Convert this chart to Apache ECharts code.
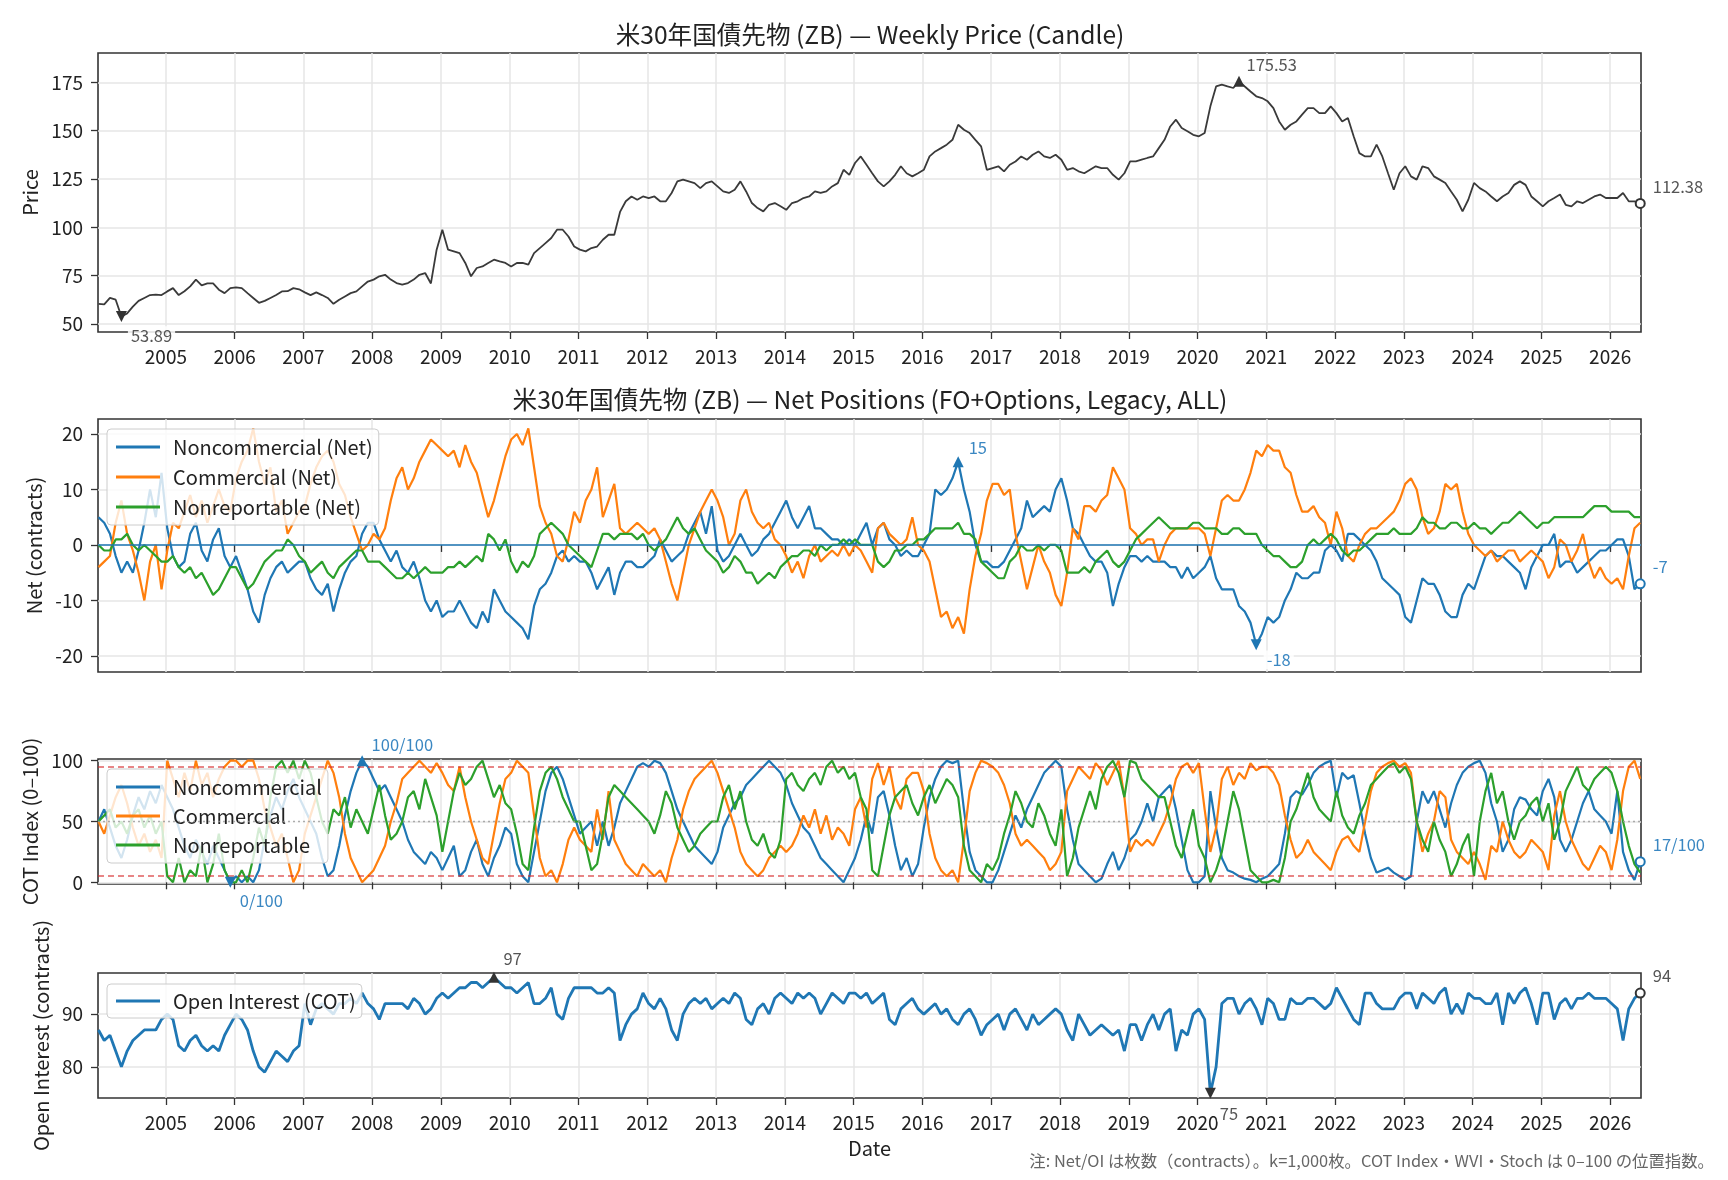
<!DOCTYPE html>
<html>
<head>
<meta charset="utf-8">
<title>ZB COT</title>
<script src="https://cdn.jsdelivr.net/npm/echarts@6/dist/echarts.min.js"></script>
<style>
html, body { margin: 0; padding: 0; background: #fff; }
#chart { width: 1728px; height: 1180px; }
</style>
</head>
<body>
<div id="chart"></div>
<script>
// monthly samples, Jan 2004 .. Jun 2026
const firstYear = 2004;
const yearTicks = [2005, 2006, 2007, 2008, 2009, 2010, 2011, 2012, 2013, 2014, 2015,
  2016, 2017, 2018, 2019, 2020, 2021, 2022, 2023, 2024, 2025, 2026];

const priceClose = [
  60.5, 60.2, 63.5, 62.6, 53.89, 55.5, 59.0, 62.0, 63.5, 65.0, 65.2, 65.0,
  66.9, 68.6, 65.0, 67.0, 69.5, 73.0, 70.0, 71.0, 71.0, 67.8, 66.0, 68.6,
  69.0, 68.6, 66.0, 63.5, 61.0, 62.0, 63.5, 65.0, 66.9, 67.0, 68.6, 68.0,
  66.4, 65.0, 66.4, 65.0, 63.5, 60.5, 62.6, 64.3, 66.0, 66.9, 69.5, 72.0,
  73.0, 74.7, 75.5, 73.0, 71.2, 70.4, 71.2, 73.0, 75.5, 76.4, 71.0, 88.5,
  98.8, 88.5, 87.6, 86.7, 81.6, 74.7, 79.0, 79.8, 81.6, 83.3, 82.4, 81.6,
  79.8, 81.6, 81.6, 80.7, 86.7, 89.3, 91.9, 94.5, 98.8, 98.8, 95.3, 90.1,
  88.5, 87.6, 89.3, 90.1, 93.6, 96.2, 96.2, 108.0, 113.5, 116.0, 114.3, 116.0,
  115.2, 116.0, 113.5, 113.5, 117.8, 123.8, 124.7, 123.8, 122.9, 120.3, 122.9, 123.8,
  121.2, 118.6, 117.8, 119.5, 123.8, 118.6, 112.6, 110.0, 108.3, 111.7, 112.6, 110.9,
  109.1, 112.6, 113.5, 115.2, 116.0, 118.6, 117.8, 118.6, 121.2, 122.9, 129.8, 127.2,
  133.3, 136.7, 132.4, 128.0, 123.8, 121.2, 123.8, 127.2, 131.6, 128.0, 126.4, 128.0,
  129.8, 136.7, 139.3, 141.0, 142.8, 145.3, 153.1, 150.5, 148.8, 145.3, 141.9, 129.8,
  130.7, 131.6, 129.0, 132.4, 134.1, 136.7, 135.0, 137.6, 139.3, 136.7, 135.9, 137.6,
  135.0, 129.8, 130.7, 129.0, 128.0, 129.8, 131.6, 130.7, 130.7, 127.2, 124.7, 128.0,
  134.1, 134.1, 135.0, 135.9, 136.7, 141.0, 145.3, 152.2, 155.7, 151.4, 149.7, 147.9,
  147.1, 148.8, 162.6, 172.9, 173.8, 172.9, 172.1, 175.53, 172.9, 170.3, 167.8, 166.9,
  165.2, 161.7, 154.8, 150.5, 153.1, 154.8, 158.3, 161.7, 161.7, 159.1, 159.1, 162.6,
  159.1, 154.8, 156.6, 147.1, 138.4, 136.7, 136.7, 142.8, 136.7, 128.0, 119.5, 128.0,
  131.6, 126.4, 124.7, 131.6, 130.7, 126.4, 124.7, 123.0, 118.6, 114.3, 108.3, 114.3,
  123.0, 120.3, 118.6, 116.0, 113.5, 116.0, 117.8, 122.0, 123.8, 122.0, 116.0, 113.5,
  110.9, 113.5, 115.2, 117.0, 111.7, 110.9, 113.5, 112.6, 114.3, 116.0, 117.0, 115.2,
  115.2, 115.2, 117.8, 113.5, 113.5, 112.38
];

// net positions, thousands of contracts
const netNoncomm = [
  5, 4, 2, -2, -5, -3, -5, -1, 4, 10, 5, 13,
  3, -2, -4, -3, 2, 4, -1, -3, 1, 3, -2, -4,
  -2, -5, -8, -12, -14, -9, -6, -4, -3, -5, -4, -3,
  -3, -6, -8, -9, -7, -12, -8, -5, -3, -2, 2, 4,
  4, 1, -1, -3, -1, -4, -5, -3, -6, -10, -12, -10,
  -13, -12, -12, -10, -12, -14, -15, -12, -14, -8, -10, -12,
  -13, -14, -15, -17, -11, -8, -7, -5, -2, -1, -3, -2,
  -3, -3, -5, -8, -6, -4, -9, -5, -3, -3, -4, -4,
  -3, -2, 1, -1, -3, -2, -1, 2, 4, 6, 2, 7,
  -1, -3, -2, 0, 2, 0, -2, -1, 1, 2, 4, 6,
  8, 5, 3, 5, 7, 3, 3, 2, 1, 1, 0, 1,
  0, 2, 4, 0, 3, 4, 1, 0, -2, -1, -2, -2,
  0, 2, 10, 9, 10, 12, 15, 10, 6, 0, -3, -3,
  -4, -4, -3, -1, 1, 3, 8, 5, 6, 7, 6, 10,
  12, 8, 3, 2, 0, -2, -3, -3, -5, -11, -7, -4,
  -2, -2, -3, -2, -3, -3, -3, -4, -4, -6, -4, -6,
  -5, -4, -2, -6, -8, -8, -8, -11, -12, -14, -18, -16,
  -13, -14, -13, -10, -8, -5, -6, -6, -5, -5, -1, 0,
  -1, -3, 2, 2, 1, 0, -1, -3, -6, -7, -8, -9,
  -13, -14, -10, -6, -7, -7, -9, -12, -13, -13, -9, -7,
  -8, -5, -2, -1, -2, -2, -3, -4, -5, -8, -4, -2,
  0, 0, 2, -4, -3, -3, -5, -4, -3, -2, -1, -1,
  0, 1, 1, -2, -8, -7
];
const netComm = [
  -4, -3, -2, 4, 8, 2, -1, -5, -10, -3, 0, -8,
  -1, 4, 3, 6, 9, 5, 8, 4, 7, 10, 7, 6,
  12, 15, 17, 21, 15, 11, 14, 6, 8, 2, 4, 6,
  7, 11, 14, 16, 17, 15, 11, 9, 5, 2, -1, 0,
  2, 1, 3, 8, 12, 14, 10, 12, 15, 17, 19, 18,
  17, 16, 17, 14, 18, 15, 13, 9, 5, 8, 12, 16,
  19, 20, 18, 21, 14, 7, 4, 2, -2, -3, 1, 6,
  4, 8, 10, 14, 5, 8, 11, 3, 2, 3, 4, 3,
  2, 3, 1, -3, -7, -10, -5, 0, 3, 6, 8, 10,
  8, 5, 0, 2, 8, 10, 6, 4, 3, 4, 1, 0,
  -2, -5, -3, -6, -2, 0, -3, -2, -1, -2, 0, -2,
  0, -1, -3, -5, 3, 4, 2, 1, 0, 1, 5, 0,
  -1, -3, -8, -13, -12, -15, -13, -16, -8, -2, 2, 8,
  11, 11, 9, 10, 2, -3, -8, -4, 0, -3, -5, -9,
  -11, -5, 3, 1, 7, 7, 6, 8, 9, 14, 12, 10,
  3, 2, 0, 1, 1, -3, 0, 2, 3, 3, 3, 3,
  3, 2, -2, 3, 8, 9, 8, 8, 10, 13, 17, 16,
  18, 17, 17, 14, 13, 9, 6, 6, 7, 5, 4, 0,
  6, 3, -2, -3, 0, 2, 3, 3, 4, 5, 6, 8,
  11, 12, 10, 5, 2, 3, 6, 11, 10, 11, 6, 2,
  0, -1, -2, -1, -3, -2, -1, -1, -3, -2, -1, -2,
  -3, -6, -4, 1, 0, -3, -1, 2, -3, -6, -4, -6,
  -7, -6, -8, -2, 3, 4
];
const netNonrep = [
  0, -1, -1, 1, 1, 2, 0, -1, 0, -1, -2, -3,
  -3, -2, -4, -5, -4, -6, -5, -7, -9, -8, -6, -4,
  -4, -6, -8, -7, -5, -3, -2, -1, -1, 1, 0, -2,
  -3, -5, -4, -3, -5, -6, -4, -3, -2, -1, -1, -3,
  -3, -3, -4, -5, -6, -6, -5, -6, -5, -4, -5, -5,
  -5, -4, -4, -3, -4, -3, -2, -3, 2, 1, -1, 1,
  -3, -5, -3, -4, -2, 2, 3, 4, 3, 2, 0, -1,
  -2, -3, -4, -1, 2, 2, 1, 2, 2, 2, 1, 2,
  0, -1, 0, 1, 3, 5, 3, 2, 3, 1, -1, -2,
  -3, -5, -4, -2, -3, -5, -5, -7, -6, -5, -6, -4,
  -3, -2, -2, -1, -1, -2, 0, -1, 0, 0, 1, 0,
  1, 0, 0, 0, -3, -4, -3, -1, -1, 0, 0, 1,
  1, 2, 3, 3, 3, 3, 4, 2, 2, 1, -3, -4,
  -5, -6, -6, -3, -2, 0, -1, -1, 0, -1, 0, 0,
  -1, -5, -5, -5, -4, -5, -3, -2, -1, -3, -4, -3,
  -1, 1, 2, 3, 4, 5, 4, 3, 3, 3, 3, 4,
  4, 3, 3, 3, 2, 2, 3, 3, 2, 2, 2, 0,
  -1, -2, -2, -3, -4, -4, -3, 0, 1, 0, 1, 2,
  1, -1, -2, -1, -1, 0, 1, 2, 2, 2, 3, 2,
  2, 2, 3, 5, 4, 4, 3, 3, 4, 4, 3, 3,
  4, 3, 3, 2, 3, 4, 4, 5, 6, 5, 4, 3,
  4, 4, 5, 5, 5, 5, 5, 5, 6, 7, 7, 7,
  6, 6, 6, 6, 5, 5
];

// COT index, 0-100
const cotNoncomm = [
  50, 60, 45, 30, 20, 35, 55, 70, 60, 75, 65, 80,
  70, 60, 45, 30, 20, 35, 25, 15, 30, 20, 10, 0,
  5, 0, 5, 0, 10, 35, 55, 70, 60, 75, 85, 70,
  60, 50, 40, 20, 5, 10, 30, 55, 75, 90, 100, 95,
  85, 75, 80, 70, 60, 50, 35, 25, 20, 15, 25, 20,
  10, 20, 30, 5, 10, 25, 35, 15, 5, 20, 30, 45,
  40, 15, 5, 0, 25, 50, 75, 90, 95, 85, 70, 55,
  40, 45, 50, 30, 50, 30, 45, 65, 75, 85, 95, 98,
  95, 100, 98, 90, 75, 60, 50, 40, 30, 25, 20, 15,
  25, 45, 55, 65, 70, 80, 85, 90, 95, 100, 95, 90,
  80, 65, 55, 45, 40, 30, 20, 15, 10, 5, 0, 10,
  20, 35, 55, 40, 70, 75, 55, 30, 10, 20, 5, 15,
  45, 70, 85, 95, 100, 98, 100, 60, 25, 10, 5, 0,
  0, 10, 25, 40, 55, 45, 60, 70, 80, 90, 95, 100,
  95, 60, 35, 15, 10, 5, 0, 3, 15, 25, 10, 20,
  35, 40, 50, 65, 50, 70, 75, 80, 60, 35, 10, 0,
  0, 5, 75, 45, 20, 10, 8, 5, 3, 2, 0, 3,
  5, 10, 15, 40, 70, 75, 72, 80, 90, 95, 98, 100,
  70, 90, 85, 88, 65, 40, 20, 8, 10, 12, 8, 5,
  2, 5, 50, 75, 65, 75, 60, 45, 65, 80, 90, 95,
  98, 100, 90, 65, 50, 25, 35, 60, 70, 68, 60, 55,
  75, 85, 70, 35, 25, 35, 50, 65, 75, 60, 55, 50,
  40, 75, 25, 10, 2, 17
];
const cotComm = [
  50, 40, 55, 70, 80, 65, 45, 30, 40, 25, 35, 20,
  100, 85, 70, 90, 75, 100, 80, 90, 70, 85, 95, 100,
  100, 95, 100, 100, 85, 60, 45, 30, 40, 20, 0, 10,
  40, 55, 70, 85, 100, 90, 70, 40, 20, 10, 0, 5,
  10, 20, 30, 50, 65, 85, 90, 95, 100, 95, 90, 98,
  90, 80, 75, 95, 70, 50, 35, 20, 15, 40, 65, 85,
  90, 100, 95, 90, 55, 20, 5, 10, 0, 15, 35, 45,
  35, 30, 25, 60, 35, 75, 35, 25, 15, 10, 5, 15,
  10, 5, 10, 0, 20, 35, 60, 75, 85, 90, 95, 100,
  90, 75, 60, 45, 25, 15, 10, 5, 10, 20, 25, 30,
  25, 30, 40, 55, 45, 60, 40, 55, 35, 45, 40, 30,
  60, 70, 45, 85, 98, 80, 95, 70, 60, 85, 90, 90,
  75, 40, 20, 10, 5, 10, 0, 35, 75, 90, 100, 98,
  95, 90, 80, 65, 40, 30, 35, 30, 25, 20, 10, 15,
  25, 75, 85, 95, 90, 85, 98, 92, 80, 90, 100, 70,
  25, 35, 30, 35, 30, 40, 50, 65, 85, 95, 98, 90,
  98, 60, 25, 45, 85, 95, 80, 90, 85, 98, 92, 95,
  95, 90, 80, 55, 35, 20, 25, 35, 25, 20, 15, 10,
  25, 35, 38, 30, 25, 50, 75, 90, 95, 98, 100, 95,
  98, 90, 50, 25, 40, 50, 75, 70, 35, 25, 20, 15,
  25, 15, 2, 30, 25, 50, 35, 25, 20, 25, 35, 30,
  25, 10, 55, 75, 50, 35, 25, 15, 10, 20, 30, 25,
  10, 35, 75, 95, 100, 85
];
const cotNonrep = [
  50, 55, 60, 45, 50, 40, 55, 60, 45, 55, 40, 50,
  5, 0, 20, 0, 10, 5, 30, 0, 15, 40, 10, 0,
  0, 10, 0, 20, 45, 30, 70, 95, 100, 90, 100, 85,
  100, 90, 70, 50, 40, 60, 55, 70, 45, 60, 50, 40,
  60, 80, 55, 35, 40, 50, 70, 75, 60, 85, 70, 55,
  25, 50, 75, 90, 80, 85, 95, 100, 85, 70, 80, 65,
  60, 40, 15, 10, 45, 75, 90, 95, 85, 70, 60, 50,
  50, 30, 10, 15, 40, 70, 80, 75, 70, 65, 60, 55,
  50, 40, 55, 75, 65, 45, 35, 25, 30, 40, 45, 50,
  50, 70, 80, 60, 75, 50, 35, 30, 40, 25, 20, 35,
  85, 90, 80, 75, 85, 90, 80, 95, 100, 90, 95, 85,
  90, 70, 60, 10, 5, 30, 55, 70, 75, 80, 65, 55,
  70, 80, 65, 75, 85, 80, 70, 30, 10, 5, 0, 15,
  10, 20, 40, 55, 75, 65, 50, 45, 65, 55, 40, 30,
  60, 5, 20, 45, 60, 75, 60, 85, 95, 100, 90, 70,
  100, 98, 85, 80, 75, 70, 70, 50, 30, 20, 40, 60,
  30, 20, 0, 10, 25, 50, 75, 60, 35, 10, 5, 0,
  0, 2, 0, 20, 50, 60, 75, 90, 70, 60, 55, 50,
  75, 55, 45, 40, 55, 65, 80, 85, 90, 95, 98, 90,
  95, 85, 50, 35, 25, 50, 35, 25, 5, 15, 30, 40,
  5, 50, 75, 90, 65, 75, 50, 35, 50, 55, 65, 70,
  50, 65, 35, 50, 75, 85, 95, 80, 75, 85, 90, 95,
  90, 75, 50, 30, 15, 8
];

// open interest, thousands of contracts
const openInterest = [
  87, 85, 86, 83, 80, 83, 85, 86, 87, 87, 87, 89,
  90, 89, 84, 83, 85, 86, 84, 83, 84, 83, 86, 88,
  90, 89, 87, 83, 80, 79, 81, 83, 82, 81, 83, 84,
  92, 88, 91, 92, 91, 90, 92, 92, 93, 92, 94, 92,
  91, 89, 92, 92, 92, 92, 91, 93, 92, 90, 91, 93,
  94, 93, 94, 95, 95, 96, 96, 95, 96, 97, 96, 95,
  95, 94, 95, 96, 92, 92, 93, 95, 90, 89, 93, 95,
  95, 95, 95, 94, 94, 95, 94, 85, 88, 90, 91, 94,
  92, 91, 93, 91, 87, 85, 90, 92, 93, 92, 93, 91,
  92, 93, 92, 94, 93, 89, 88, 91, 92, 90, 93, 94,
  93, 92, 94, 93, 94, 93, 90, 92, 94, 93, 92, 94,
  94, 93, 94, 92, 93, 94, 89, 88, 91, 92, 93, 91,
  90, 91, 92, 90, 91, 89, 88, 90, 91, 89, 86, 88,
  89, 90, 87, 90, 91, 89, 87, 90, 88, 89, 90, 91,
  90, 87, 85, 90, 88, 86, 87, 88, 87, 86, 87, 83,
  88, 88, 85, 88, 90, 87, 90, 91, 83, 87, 86, 90,
  91, 89, 75, 80, 92, 93, 93, 90, 92, 93, 91, 88,
  93, 92, 89, 89, 93, 92, 92, 93, 93, 92, 91, 92,
  95, 93, 91, 89, 88, 94, 94, 92, 91, 91, 91, 93,
  94, 94, 91, 94, 93, 92, 94, 95, 90, 92, 90, 94,
  93, 93, 92, 92, 94, 88, 94, 92, 94, 95, 92, 88,
  94, 94, 89, 92, 93, 91, 93, 93, 94, 93, 93, 93,
  92, 91, 85, 91, 93, 94
];

const xMin = 2004.013, xMax = 2026.448;
const months = priceClose.map((_, i) => firstYear + i / 12 + 0.02);
const pair = ys => ys.map((v, i) => [months[i], v]);
const argmax = a => a.reduce((k, v, i) => (v > a[k] ? i : k), 0);
const argmin = a => a.reduce((k, v, i) => (v < a[k] ? i : k), 0);

const FONT = '"Noto Sans CJK JP", "Noto Sans", sans-serif';
const C_BLUE = '#1f77b4', C_ORANGE = '#ff7f0e', C_GREEN = '#2ca02c';
const C_DARK = '#3a3a3a', C_NOTE = '#555555', C_NOTE_BLUE = '#3a87c2';

const grids = [
  { left: 98, right: 87, top: 53, height: 279 },
  { left: 98, right: 87, top: 419, height: 253 },
  { left: 98, right: 87, top: 759, height: 125 },
  { left: 98, right: 87, top: 973, height: 125 }
].map(g => Object.assign(g, { show: true, borderColor: '#333', borderWidth: 1.6, backgroundColor: 'transparent' }));

function xAxisFor(idx, showLabels, name) {
  return {
    type: 'value', gridIndex: idx, min: xMin, max: xMax,
    axisLine: { show: false },
    axisTick: { show: true, length: 7, customValues: yearTicks, lineStyle: { color: '#333', width: 1.3 } },
    axisLabel: { show: showLabels, customValues: yearTicks, margin: 15, fontSize: 19, color: '#222',
      fontFamily: FONT, formatter: v => String(v) },
    splitLine: { show: true, lineStyle: { color: '#e6e6e6', width: 1.5 } },
    name: name || '', nameLocation: 'middle', nameGap: 40,
    nameTextStyle: { fontSize: 20, color: '#222', fontFamily: FONT }
  };
}
function yAxisFor(idx, min, max, ticks, name, gap) {
  return {
    type: 'value', gridIndex: idx, min, max,
    axisLine: { show: false },
    axisTick: { show: true, length: 7, customValues: ticks, lineStyle: { color: '#333', width: 1.3 } },
    axisLabel: { customValues: ticks, margin: 15, fontSize: 19, color: '#222', fontFamily: FONT,
      formatter: v => String(v) },
    splitLine: { show: true, lineStyle: { color: '#e6e6e6', width: 1.5 } },
    name, nameLocation: 'middle', nameGap: gap,
    nameTextStyle: { fontSize: 20, color: '#222', fontFamily: FONT }
  };
}

function peakMark(x, y, text, down, color, textColor, offset) {
  return {
    coord: [x, y], symbol: 'triangle', symbolSize: 11, symbolRotate: down ? 180 : 0,
    itemStyle: { color },
    label: { show: true, formatter: text, position: 'right', offset, color: textColor,
      fontSize: 16.5, fontFamily: FONT, backgroundColor: 'rgba(255,255,255,0.85)',
      borderRadius: 3, padding: [1, 3] }
  };
}
function lastMark(vals, text, color, textColor) {
  const i = vals.length - 1;
  return {
    coord: [months[i], vals[i]], symbol: 'emptyCircle', symbolSize: 9,
    itemStyle: { color, borderWidth: 1.5 },
    label: { show: true, formatter: text, position: 'right', offset: [2, -17], color: textColor,
      fontSize: 16.5, fontFamily: FONT }
  };
}

const legendBase = {
  orient: 'vertical', icon: 'rect', itemWidth: 44, itemHeight: 3, itemGap: 10,
  padding: [8, 6, 8, 9], backgroundColor: 'rgba(255,255,255,0.8)',
  borderColor: '#cccccc', borderWidth: 1, borderRadius: 4, selectedMode: false,
  textStyle: { fontSize: 20, lineHeight: 20, color: '#222', fontFamily: FONT, padding: [0, 0, 0, 8] }
};

const pMax = argmax(priceClose), pMin = argmin(priceClose);
const nMax = argmax(netNoncomm), nMin = argmin(netNoncomm);
const cMax = argmax(cotNoncomm), cMin = argmin(cotNoncomm);
const oMax = argmax(openInterest), oMin = argmin(openInterest);
const last = priceClose.length - 1;

const lineSeries = (name, idx, vals, color, width, extra) => Object.assign({
  name, type: 'line', xAxisIndex: idx, yAxisIndex: idx, data: pair(vals),
  showSymbol: false, symbol: 'none', lineStyle: { color, width }, itemStyle: { color },
  emphasis: { disabled: true }
}, extra || {});

const titleStyle = { fontSize: 24.6, fontWeight: 'normal', color: '#222', fontFamily: FONT };

const option = {
  animation: false,
  textStyle: { fontFamily: FONT },
  title: [
    { text: '米30年国債先物 (ZB) — Weekly Price (Candle)', left: 870, top: 22, textAlign: 'center', padding: 0,
      textStyle: titleStyle },
    { text: '米30年国債先物 (ZB) — Net Positions (FO+Options, Legacy, ALL)', left: 870, top: 387, textAlign: 'center', padding: 0,
      textStyle: titleStyle }
  ],
  legend: [
    Object.assign({}, legendBase, { left: 107, top: 429,
      data: ['Noncommercial (Net)', 'Commercial (Net)', 'Nonreportable (Net)'] }),
    Object.assign({}, legendBase, { left: 107, top: 769, itemGap: 9,
      data: ['Noncommercial', 'Commercial', 'Nonreportable'] }),
    Object.assign({}, legendBase, { left: 107, top: 984, padding: [7, 6, 7, 9],
      data: ['Open Interest (COT)'] })
  ],
  grid: grids,
  xAxis: [xAxisFor(0, true), xAxisFor(1, false), xAxisFor(2, false), xAxisFor(3, true, 'Date')],
  yAxis: [
    yAxisFor(0, 45.9, 190.2, [50, 75, 100, 125, 150, 175], 'Price', 55),
    yAxisFor(1, -22.9, 22.7, [-20, -10, 0, 10, 20], 'Net (contracts)', 53),
    yAxisFor(2, -1.4, 101.4, [0, 50, 100], 'COT Index (0–100)', 55),
    yAxisFor(3, 74.1, 97.8, [80, 90], 'Open Interest (contracts)', 45)
  ],
  series: [
    lineSeries('Price', 0, priceClose, C_DARK, 1.8, {
      markPoint: { silent: true, data: [
        peakMark(months[pMax], priceClose[pMax], priceClose[pMax].toFixed(2), false, '#333', C_NOTE, [-6, -17]),
        peakMark(months[pMin], priceClose[pMin], priceClose[pMin].toFixed(2), true, '#333', C_NOTE, [-4, 19]),
        lastMark(priceClose, priceClose[last].toFixed(2), '#333', C_NOTE)
      ] }
    }),
    lineSeries('Noncommercial (Net)', 1, netNoncomm, C_BLUE, 2.2, {
      markLine: { silent: true, symbol: 'none', label: { show: false },
        lineStyle: { color: C_BLUE, width: 1.6, type: 'solid' }, data: [{ yAxis: 0 }] },
      markPoint: { silent: true, data: [
        peakMark(months[nMax], netNoncomm[nMax], String(netNoncomm[nMax]), false, C_BLUE, C_NOTE_BLUE, [-3, -14]),
        peakMark(months[nMin], netNoncomm[nMin], String(netNoncomm[nMin]), true, C_BLUE, C_NOTE_BLUE, [-3, 15]),
        lastMark(netNoncomm, String(netNoncomm[last]), C_BLUE, C_NOTE_BLUE)
      ] }
    }),
    lineSeries('Commercial (Net)', 1, netComm, C_ORANGE, 2.2),
    lineSeries('Nonreportable (Net)', 1, netNonrep, C_GREEN, 2.2),
    lineSeries('Noncommercial', 2, cotNoncomm, C_BLUE, 2.2, {
      markPoint: { silent: true, data: [
        peakMark(months[cMax], cotNoncomm[cMax], cotNoncomm[cMax] + '/100', false, C_BLUE, C_NOTE_BLUE, [-4, -16]),
        peakMark(months[cMin], cotNoncomm[cMin], cotNoncomm[cMin] + '/100', true, C_BLUE, C_NOTE_BLUE, [-4, 18]),
        lastMark(cotNoncomm, cotNoncomm[last] + '/100', C_BLUE, C_NOTE_BLUE)
      ] }
    }),
    lineSeries('Commercial', 2, cotComm, C_ORANGE, 2.2),
    lineSeries('Nonreportable', 2, cotNonrep, C_GREEN, 2.2, {
      markLine: { silent: true, symbol: 'none', label: { show: false }, data: [
        { yAxis: 95, lineStyle: { color: '#d62728', opacity: 0.75, width: 1.6, type: [6, 4] } },
        { yAxis: 5, lineStyle: { color: '#d62728', opacity: 0.75, width: 1.6, type: [6, 4] } },
        { yAxis: 50, lineStyle: { color: '#999999', opacity: 0.8, width: 1.3, type: [2, 3] } }
      ] }
    }),
    lineSeries('Open Interest (COT)', 3, openInterest, C_BLUE, 2.8, {
      markPoint: { silent: true, data: [
        peakMark(months[oMax], openInterest[oMax], String(openInterest[oMax]), false, '#333', C_NOTE, [-4, -18]),
        peakMark(months[oMin], openInterest[oMin], String(openInterest[oMin]), true, '#333', C_NOTE, [-4, 20]),
        lastMark(openInterest, String(openInterest[last]), '#333', C_NOTE)
      ] }
    })
  ],
  graphic: [
    { type: 'text', right: 14, top: 1153,
      style: { text: '注: Net/OI は枚数（contracts）。k=1,000枚。COT Index・WVI・Stoch は 0–100 の位置指数。',
        fontSize: 16.4, fill: '#666', fontFamily: FONT } }
  ]
};

const chart = echarts.init(document.getElementById('chart'), null, { renderer: 'canvas' });
chart.setOption(option);
</script>
</body>
</html>
